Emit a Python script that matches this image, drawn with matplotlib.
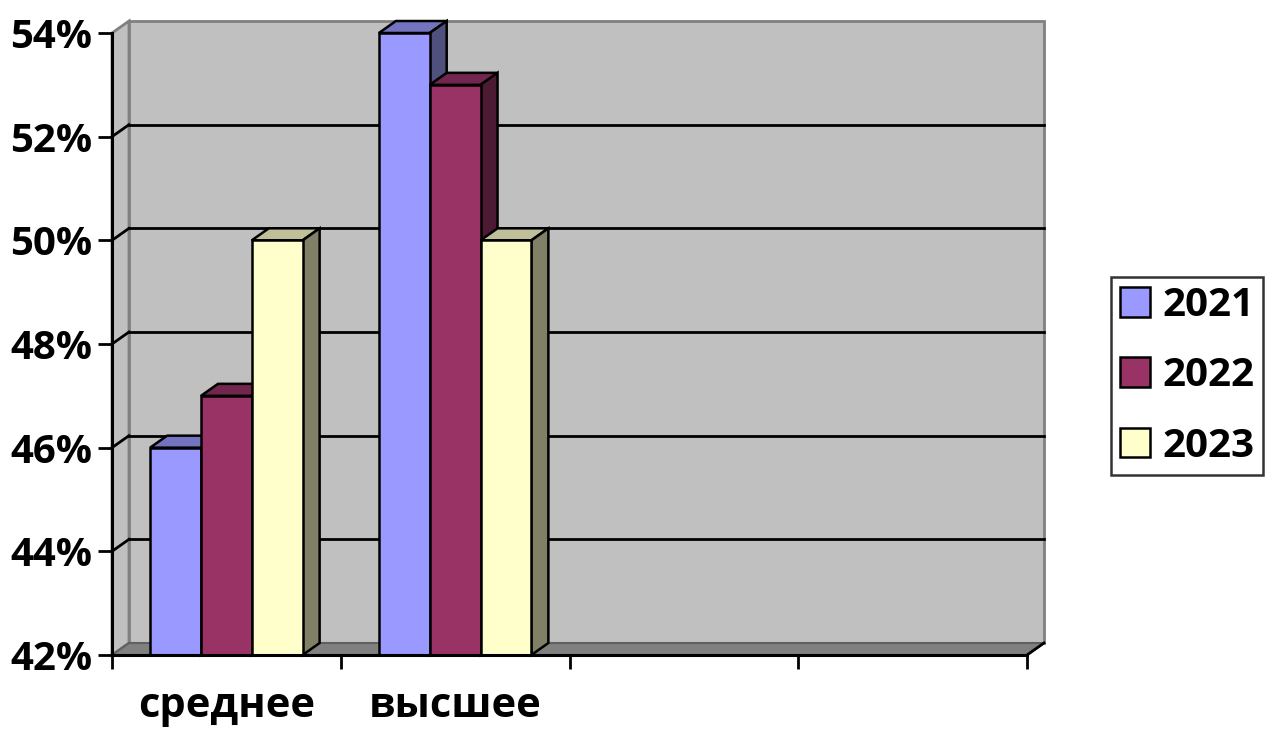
import numpy as np
import matplotlib.pyplot as plt
from matplotlib.patches import Polygon, Patch

# data
categories = ["среднее", "высшее", "", ""]
years = ["2021", "2022", "2023"]
vals_2021 = [46, 54]
vals_2022 = [47, 53]
vals_2023 = [50, 50]
series = [vals_2021, vals_2022, vals_2023]
yticks = [42, 44, 46, 48, 50, 52, 54]

front_col = ["#9999FF", "#993366", "#FFFFCC"]
top_col = ["#7373BF", "#73264D", "#BFBF99"]
side_col = ["#50507F", "#4D1A33", "#808066"]

plt.rcParams['font.family'] = ['Open Sans', 'DejaVu Sans']
plt.rcParams['font.weight'] = 'bold'

fig = plt.figure(figsize=(12.65, 7.30), dpi=100)
ax = fig.add_axes([112/1265, 75/730, 915/1265, 622/730])
ymin, ymax = 42, 54
ncat = len(categories)
ax.set_xlim(0, ncat)
ax.set_ylim(ymin, ymax)

# depth of the 3d box, in data units (17 px right, 12 px up)
ddx = 17 * ncat / 915
ddy = 12 * (ymax - ymin) / 622

# walls and floor
side_wall = Polygon([(0, ymin), (ddx, ymin + ddy), (ddx, ymax + ddy), (0, ymax)],
                    fc="#C0C0C0", ec="#808080", lw=2, zorder=0.5, clip_on=False)
back_wall = Polygon([(ddx, ymin + ddy), (ncat + ddx, ymin + ddy), (ncat + ddx, ymax + ddy), (ddx, ymax + ddy)],
                    fc="#C0C0C0", ec="#808080", lw=2, zorder=0.5, clip_on=False)
floor = Polygon([(0, ymin), (ncat, ymin), (ncat + ddx, ymin + ddy), (ddx, ymin + ddy)],
                fc="#808080", ec="#606060", lw=1.5, zorder=0.9, clip_on=False)
for p in (side_wall, back_wall, floor):
    ax.add_patch(p)
ax.plot([ncat, ncat + ddx], [ymin, ymin + ddy], color="black", lw=2, zorder=0.95, clip_on=False)

# gridlines on back and side wall
for t in yticks[1:-1]:
    ax.plot([ddx, ncat + ddx], [t + ddy, t + ddy], color="black", lw=2, zorder=0.8, clip_on=False)
    ax.plot([0, ddx], [t, t + ddy], color="black", lw=2, zorder=0.8, clip_on=False)

# bars
w = 1 / 4.5
z = 2
for i in range(2):
    for k, vals in enumerate(series):
        v = vals[i]
        x0 = i + 0.5 + (k - 1.5) * w
        x1 = x0 + w
        top = Polygon([(x0, v), (x1, v), (x1 + ddx, v + ddy), (x0 + ddx, v + ddy)],
                      fc=top_col[k], ec="black", lw=1.8, zorder=z, clip_on=False)
        side = Polygon([(x1, ymin), (x1 + ddx, ymin + ddy), (x1 + ddx, v + ddy), (x1, v)],
                       fc=side_col[k], ec="black", lw=1.8, zorder=z, clip_on=False)
        ax.add_patch(top)
        ax.add_patch(side)
        ax.bar(x0, v - ymin, bottom=ymin, width=w, align="edge", color=front_col[k],
               edgecolor="black", lw=1.8, zorder=z + 0.5, clip_on=False)
        z += 1

# axes
ax.set_facecolor("none")
for s in ("top", "right"):
    ax.spines[s].set_visible(False)
for s in ("left", "bottom"):
    ax.spines[s].set_linewidth(2.2)
    ax.spines[s].set_zorder(20)
ax.set_yticks(yticks)
ax.set_yticklabels([f"{t}%" for t in yticks], fontsize=29, fontweight="bold")
ax.tick_params(axis="y", length=10, width=2, pad=4)
ax.set_xticks(np.arange(ncat + 1), minor=True)
ax.set_xticks(np.arange(ncat) + 0.5)
ax.set_xticklabels(categories, fontsize=30, fontweight="bold")
ax.tick_params(axis="x", which="major", length=0, pad=22)
ax.tick_params(axis="x", which="minor", length=10, width=2)

handles = [Patch(fc=c, ec="black", lw=1.8) for c in front_col]
leg = fig.legend(handles, years, loc="upper left", bbox_to_anchor=(1111/1265, 1 - 277/730),
                 prop={"weight": "bold", "size": 29}, frameon=True, fancybox=False,
                 edgecolor="black", handlelength=0.75, handleheight=0.75, handletextpad=0.3,
                 labelspacing=0.78, borderpad=0.22, borderaxespad=0)
leg.get_frame().set_linewidth(1.8)

fig.savefig("out.png", dpi=100)
